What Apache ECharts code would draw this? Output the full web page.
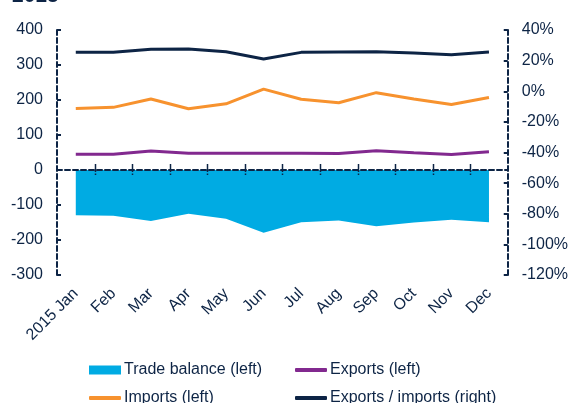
<!DOCTYPE html>
<html>
<head>
<meta charset="utf-8">
<script src="https://cdn.jsdelivr.net/npm/echarts@6/dist/echarts.min.js"></script>
<style>
  html, body { margin: 0; padding: 0; background: #fff; }
  #chart { width: 571px; height: 403px; }
</style>
</head>
<body>
<div id="chart"></div>
<script>
// Monthly trade figures, 2015
const months = ['2015 Jan', 'Feb', 'Mar', 'Apr', 'May', 'Jun', 'Jul', 'Aug', 'Sep', 'Oct', 'Nov', 'Dec'];
const tradeBalance = [-129, -131, -146, -125, -139, -179, -149, -144, -161, -150, -142, -149];
const exportsLeft = [45, 45, 54, 48, 48, 48, 48, 47, 55, 49, 44, 52];
const importsLeft = [176, 179, 203, 175, 189, 231, 202, 192, 221, 203, 187, 207];
const ratioRight = [25.4, 25.4, 27.4, 27.6, 25.8, 21.0, 25.4, 25.6, 25.8, 25.0, 23.9, 25.6];

const NAVY = '#0d2445';
const FONT = 'Liberation Sans, Arial, sans-serif';
const dashed = { color: NAVY, width: 2, type: [5, 3] };

const chart = echarts.init(document.getElementById('chart'), null, { renderer: 'canvas' });

const legendBase = {
  itemWidth: 32,
  itemGap: 4,
  textStyle: { color: NAVY, fontSize: 16, fontFamily: FONT, padding: [0, 0, 0, -2] },
  selectedMode: false,
  padding: 0
};

// Separator tick between one month and the next, straddling the zero line
function renderMonthTick(params, api) {
  const idx = api.value(0);
  if (idx >= months.length - 1) return null;
  const p = api.coord([idx, 0]);
  const x = Math.round(p[0] + api.size([1, 0])[0] / 2) + 0.5;
  const y = p[1];
  return {
    type: 'group',
    children: [
      { type: 'line', shape: { x1: x, y1: y - 6, x2: x, y2: y + 2 }, style: { stroke: NAVY, lineWidth: 1.5 } },
      { type: 'rect', shape: { x: x - 0.75, y: y + 3.5, width: 1.5, height: 1.5 }, style: { fill: NAVY } }
    ]
  };
}

chart.setOption({
  animation: false,
  backgroundColor: '#ffffff',
  textStyle: { fontFamily: FONT },
  graphic: [{
    type: 'text',
    left: 12,
    top: -14,
    style: { text: '2015', fill: NAVY, font: 'bold 21px ' + FONT }
  }],
  grid: { left: 57, right: 62, top: 30, bottom: 128, containLabel: false },
  legend: [
    Object.assign({}, legendBase, { left: 89, top: 362, itemHeight: 9, data: [{ name: 'Trade balance (left)', icon: 'rect' }] }),
    Object.assign({}, legendBase, { left: 295, top: 362, itemHeight: 4, data: [{ name: 'Exports (left)', icon: 'roundRect' }] }),
    Object.assign({}, legendBase, { left: 89, top: 390, itemHeight: 4, data: [{ name: 'Imports (left)', icon: 'roundRect' }] }),
    Object.assign({}, legendBase, { left: 295, top: 390, itemHeight: 4, data: [{ name: 'Exports / imports (right)', icon: 'roundRect' }] })
  ],
  xAxis: [
    {
      // month labels along the bottom edge
      type: 'category',
      data: months,
      position: 'bottom',
      boundaryGap: true,
      axisLine: { show: false, onZero: false },
      axisTick: { show: false },
      axisLabel: { rotate: 45, margin: 16, color: NAVY, fontSize: 16, fontFamily: FONT, interval: 0 }
    },
    {
      // dashed zero line
      type: 'category',
      data: months,
      position: 'top',
      boundaryGap: true,
      z: 5,
      axisLine: { show: true, onZero: true, onZeroAxisIndex: 0, lineStyle: dashed },
      axisTick: { show: false },
      axisLabel: { show: false }
    }
  ],
  yAxis: [
    {
      type: 'value',
      min: -300, max: 400, interval: 100,
      position: 'left',
      axisLine: { show: true, lineStyle: dashed },
      axisTick: { show: true, inside: true, length: 4, lineStyle: { color: NAVY, width: 2 } },
      axisLabel: { color: NAVY, fontSize: 16, fontFamily: FONT, margin: 14 },
      splitLine: { show: false }
    },
    {
      type: 'value',
      min: -120, max: 40, interval: 20,
      position: 'right',
      axisLine: { show: true, lineStyle: dashed },
      axisTick: { show: true, inside: true, length: 4, lineStyle: { color: NAVY, width: 2 } },
      axisLabel: { color: NAVY, fontSize: 16, fontFamily: FONT, margin: 14, formatter: '{value}%' },
      splitLine: { show: false }
    }
  ],
  series: [
    {
      name: 'Trade balance (left)',
      type: 'line',
      xAxisIndex: 0, yAxisIndex: 0,
      data: tradeBalance,
      symbol: 'none',
      color: '#00abe3',
      lineStyle: { width: 0 },
      areaStyle: { color: '#00abe3', opacity: 1 },
      z: 1
    },
    {
      name: 'Exports (left)',
      type: 'line',
      xAxisIndex: 0, yAxisIndex: 0,
      data: exportsLeft,
      symbol: 'none',
      color: '#82298f',
      lineStyle: { width: 3, color: '#82298f' },
      z: 3
    },
    {
      name: 'Imports (left)',
      type: 'line',
      xAxisIndex: 1, yAxisIndex: 0,
      data: importsLeft,
      symbol: 'none',
      color: '#f7922e',
      lineStyle: { width: 3, color: '#f7922e' },
      z: 3
    },
    {
      name: 'Exports / imports (right)',
      type: 'line',
      xAxisIndex: 0, yAxisIndex: 1,
      data: ratioRight,
      symbol: 'none',
      color: NAVY,
      lineStyle: { width: 3, color: NAVY },
      z: 3
    },
    {
      name: 'month ticks',
      type: 'custom',
      xAxisIndex: 0, yAxisIndex: 0,
      data: months.map((m, i) => [i, 0]),
      renderItem: renderMonthTick,
      silent: true,
      z: 6
    }
  ]
});
</script>
</body>
</html>
